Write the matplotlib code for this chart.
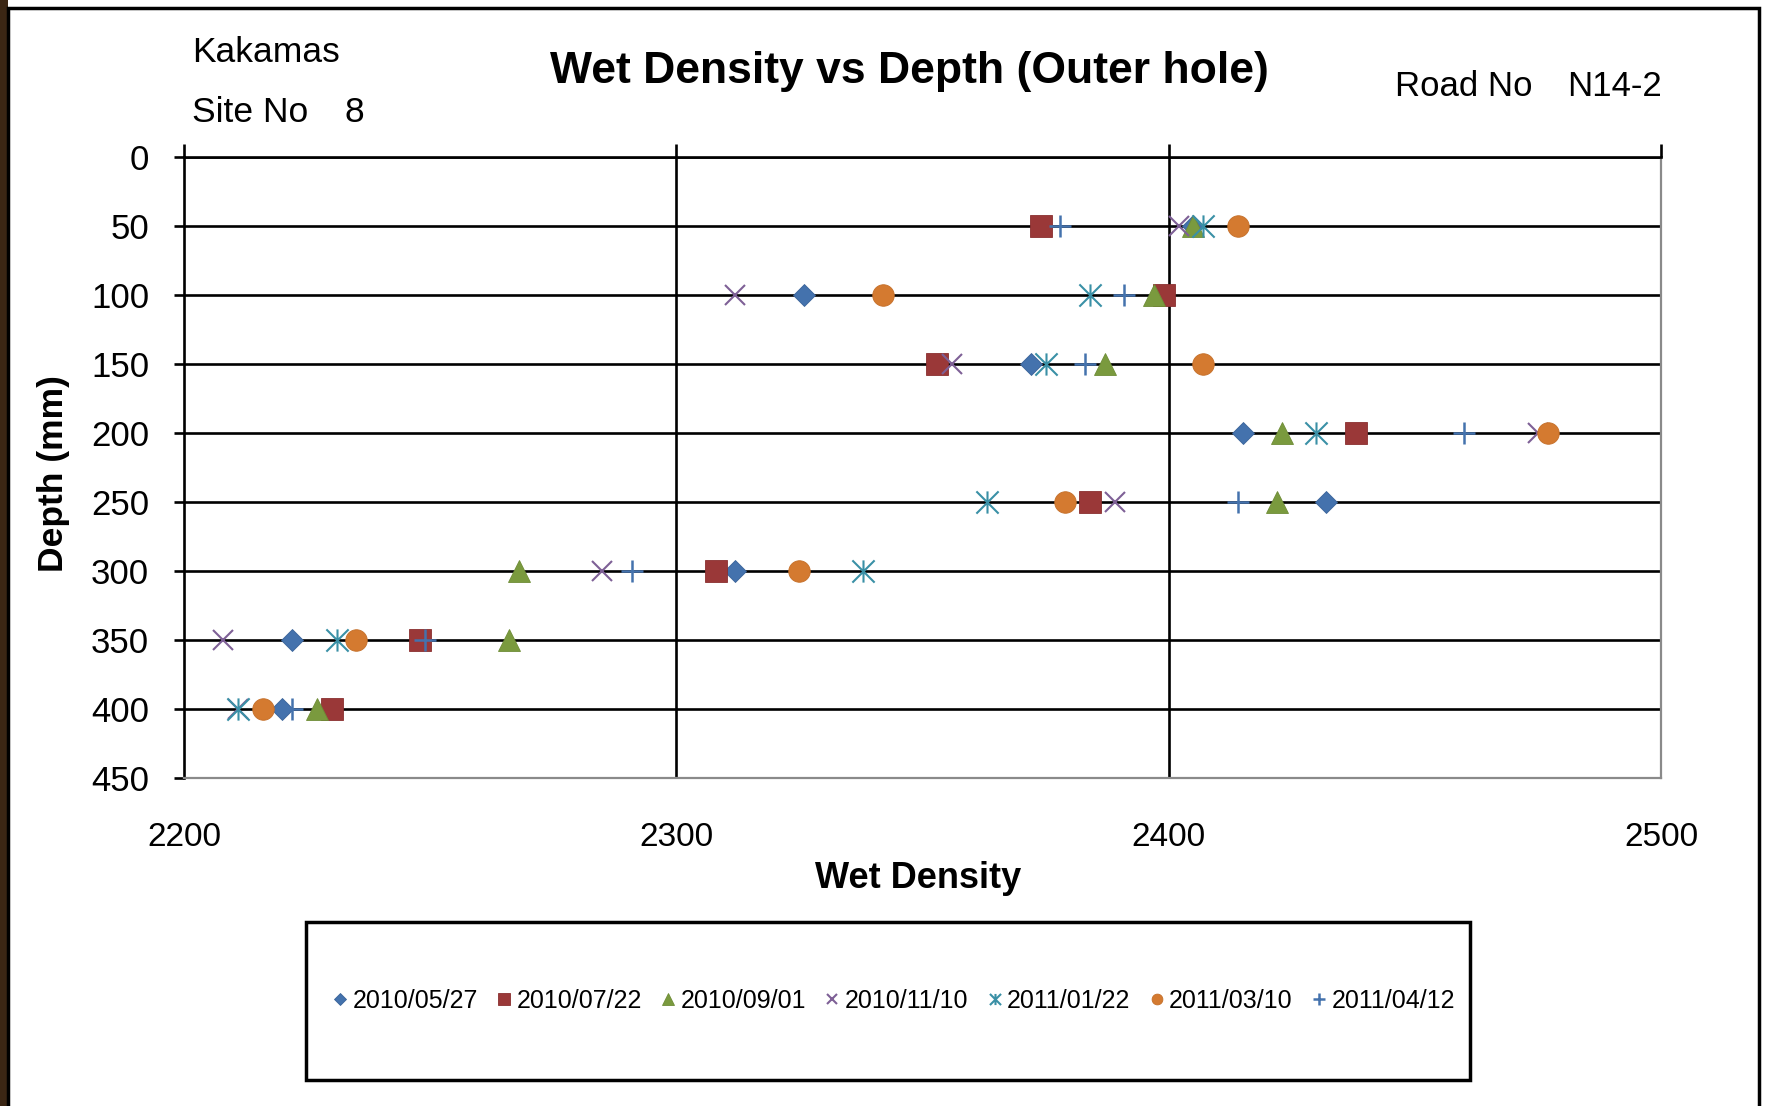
import numpy as np
import matplotlib
matplotlib.use("Agg")
import matplotlib.pyplot as plt
from matplotlib.path import Path
from matplotlib.patches import Rectangle

plt.rcParams['font.family'] = ['Liberation Sans', 'DejaVu Sans']

# ---- data ----
depths = [50, 100, 150, 200, 250, 300, 350, 400]
series_labels = ["2010/05/27", "2010/07/22", "2010/09/01", "2010/11/10",
                 "2011/01/22", "2011/03/10", "2011/04/12"]
d_20100527 = [2405, 2326, 2372, 2415, 2432, 2312, 2222, 2220]
d_20100722 = [2374, 2399, 2353, 2438, 2384, 2308, 2248, 2230]
d_20100901 = [2405, 2397, 2387, 2423, 2422, 2268, 2266, 2227]
d_20101110 = [2402, 2312, 2356, 2475, 2389, 2285, 2208, 2211]
d_20110122 = [2407, 2384, 2375, 2430, 2363, 2338, 2231, 2211]
d_20110310 = [2414, 2342, 2407, 2477, 2379, 2325, 2235, 2216]
d_20110412 = [2378, 2391, 2383, 2460, 2414, 2291, 2249, 2222]
x_ticks = [2200, 2300, 2400, 2500]
y_ticks = [0, 50, 100, 150, 200, 250, 300, 350, 400, 450]

series = [d_20100527, d_20100722, d_20100901, d_20101110,
          d_20110122, d_20110310, d_20110412]

# ---- styles ----
ast_path = Path([(0, -1), (0, 1), (-1, -1), (1, 1), (-1, 1), (1, -1)],
                [Path.MOVETO, Path.LINETO, Path.MOVETO, Path.LINETO,
                 Path.MOVETO, Path.LINETO])
styles = [
    dict(marker='D', ms=11.5, color='#4472AD', mfc='#4472AD', mec='#3A6399', mew=0.6),
    dict(marker='s', ms=16, color='#9A3838', mfc='#9A3838', mec='#8A2F2F', mew=0.6),
    dict(marker='^', ms=16, color='#7A9A3E', mfc='#7A9A3E', mec='#6E8C36', mew=0.6),
    dict(marker='x', ms=15, color='#7E6096', mfc='none', mec='#7E6096', mew=1.5),
    dict(marker=ast_path, ms=16, color='#3A90A6', mfc='none', mec='#3A90A6', mew=1.5),
    dict(marker='o', ms=15.5, color='#D47A30', mfc='#D47A30', mec='#C46E28', mew=0.6),
    dict(marker='+', ms=16, color='#4472AD', mfc='none', mec='#4472AD', mew=1.8),
]

W, H = 1768, 1106
fig = plt.figure(figsize=(W / 100, H / 100), dpi=100)
fig.patch.set_facecolor('white')

# outer frame + left photo strip
fig.patches.append(Rectangle((0, 0), 8 / W, 1, transform=fig.transFigure,
                             facecolor='#3b2614', edgecolor='none', zorder=0))
fig.patches.append(Rectangle((8 / W, -0.01), (1759 - 8) / W, 1 - 8 / H + 0.01,
                             transform=fig.transFigure, facecolor='none',
                             edgecolor='black', lw=2.5, zorder=1))

ax = fig.add_axes([184 / W, 1 - 778 / H, (1661 - 184) / W, (778 - 157) / H])
ax.set_facecolor('white')

for vals, lab, st in zip(series, series_labels, styles):
    ax.plot(vals, depths, linestyle='none', label=lab, zorder=3, clip_on=False, **st)

ax.set_xlim(2200, 2500)
ax.set_ylim(450, 0)
ax.set_xticks(x_ticks)
ax.set_yticks(y_ticks)
ax.set_xticklabels([str(v) for v in x_ticks])
ax.set_yticklabels([str(v) for v in y_ticks])

ax.grid(True, color='black', lw=1.9, zorder=1)
ax.set_axisbelow(True)
ax.xaxis.get_major_ticks()[-1].gridline.set_visible(False)
ax.xaxis.get_major_ticks()[0].gridline.set_visible(False)
ax.yaxis.get_major_ticks()[-1].gridline.set_visible(False)

for s in ['top', 'left']:
    ax.spines[s].set_color('black')
    ax.spines[s].set_linewidth(1.9)
for s in ['bottom', 'right']:
    ax.spines[s].set_color('#8a8a8a')
    ax.spines[s].set_linewidth(1.6)
    ax.spines[s].set_linestyle((0, (1, 1)))

ax.tick_params(axis='x', top=True, bottom=False, labeltop=False, labelbottom=True,
               direction='out', length=9.4, width=1.9, pad=22, labelsize=24,
               colors='black')
ax.tick_params(axis='y', left=True, direction='out', length=7.2, width=1.9,
               pad=18, labelsize=25, colors='black')

# texts
fig.text(909 / W, 1 - 71 / H, "Wet Density vs Depth (Outer hole)", ha='center',
         va='center', fontsize=32, fontweight='bold')
fig.text(192 / W, 1 - 52 / H, "Kakamas", ha='left', va='center', fontsize=25.5)
fig.text(192 / W, 1 - 112 / H, "Site No", ha='left', va='center', fontsize=25.5)
fig.text(344 / W, 1 - 112 / H, "8", ha='left', va='center', fontsize=25.5)
fig.text(1395 / W, 1 - 86 / H, "Road No", ha='left', va='center', fontsize=25)
fig.text(1567 / W, 1 - 86 / H, "N14-2", ha='left', va='center', fontsize=25)
fig.text(53 / W, 1 - 474 / H, "Depth (mm)", ha='center', va='center', rotation=90,
         fontsize=25.5, fontweight='bold')
fig.text(918 / W, 1 - 879 / H, "Wet Density", ha='center', va='center',
         fontsize=26, fontweight='bold')

# legend box
fig.patches.append(Rectangle((306 / W, 1 - 1080 / H), (1470 - 306) / W, (1080 - 922) / H,
                             transform=fig.transFigure, facecolor='white',
                             edgecolor='black', lw=2.5, zorder=2))
leg = fig.legend(loc='center', bbox_to_anchor=(893 / W, 1 - 1001 / H), ncol=7,
                 frameon=False, fontsize=18, markerscale=0.5, handlelength=0.7,
                 handletextpad=0.15, columnspacing=0.7, borderpad=0)
leg.set_zorder(5)

fig.savefig("out.png", dpi=100, facecolor=fig.get_facecolor())
